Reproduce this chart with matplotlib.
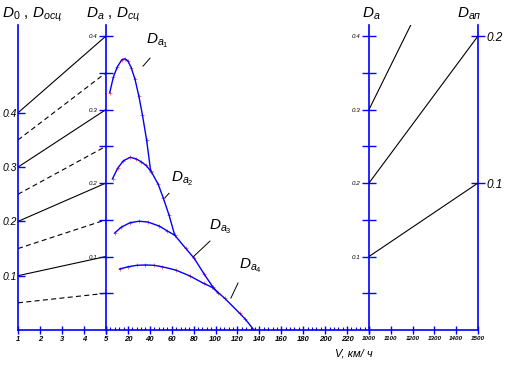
import numpy as np
import matplotlib.pyplot as plt
from matplotlib.ticker import FixedLocator, MultipleLocator

plt.rcParams['font.family'] = ['Liberation Sans', 'DejaVu Sans']
plt.rcParams['mathtext.fontset'] = 'custom'
plt.rcParams['mathtext.it'] = 'Liberation Sans:italic'
plt.rcParams['mathtext.rm'] = 'Liberation Sans'

BLUE = '#0000ff'
RED = '#ff5a5a'

# --- данные ---
# динамический фактор по передачам, V в км/ч
v_a1 = [3.4, 6.7, 10.3, 14.6, 17.3, 20, 23, 26.5, 30, 33.2, 37, 40.7]
d_a1 = [0.323, 0.344, 0.358, 0.368, 0.369, 0.366, 0.357, 0.341, 0.318, 0.293, 0.259, 0.217]
v_a2 = [6, 10.6, 15.7, 22, 27.3, 32, 36.5, 41.5, 47.7, 52.4, 57.6, 62.7]
d_a2 = [0.206, 0.220, 0.230, 0.235, 0.233, 0.229, 0.224, 0.215, 0.198, 0.179, 0.156, 0.129]
v_a3 = [8, 14, 22, 30, 38, 48.5, 56, 62.7, 72.8, 80.5, 89.6, 97.3, 101.8]
d_a3 = [0.132, 0.140, 0.146, 0.148, 0.147, 0.1415, 0.1347, 0.129, 0.111, 0.0975, 0.076, 0.059, 0.051]
v_a4 = [12.5, 20, 28, 36, 44, 51.5, 63.6, 76.6, 89, 97, 108.4, 122, 127, 135]
d_a4 = [0.083, 0.086, 0.088, 0.0885, 0.088, 0.086, 0.0816, 0.0735, 0.0635, 0.058, 0.043, 0.0227, 0.015, 0.0]
curves = [(v_a1, d_a1), (v_a2, d_a2), (v_a3, d_a3), (v_a4, d_a4)]

# номограмма нагрузок (сплошные - целые десятые, штриховые - промежуточные)
d_levels = [0.05, 0.1, 0.15, 0.2, 0.25, 0.3, 0.35, 0.4]
# номограмма автопоезда
dap_levels = [0.1, 0.2, 0.3]

left_xticks = [1, 2, 3, 4, 5]
v_ticks = list(range(0, 241, 20))
v_labels = [''] + [str(v) for v in range(20, 221, 20)] + ['']
right_xticks = [1000, 1100, 1200, 1300, 1400, 1500]

W, H = 508, 366
fig = plt.figure(figsize=(W / 100, H / 100), dpi=100)


def box(x0, x1, y0=25, y1=330):
    return [x0 / W, 1 - y1 / H, (x1 - x0) / W, (y1 - y0) / H]


ax_l = fig.add_axes(box(18, 106))
ax_m = fig.add_axes(box(106, 369))
ax_r = fig.add_axes(box(369, 478))
ax_r2 = ax_r.twinx()

ax_l.set_xlim(1, 5)
ax_l.set_ylim(0, 0.5617)
ax_m.set_xlim(0, 240)
ax_m.set_ylim(0, 0.415)
ax_r.set_xlim(1000, 1500)
ax_r.set_ylim(0, 0.415)
ax_r2.set_ylim(0, 0.2075)

for ax in (ax_l, ax_m, ax_r, ax_r2):
    ax.patch.set_visible(False)
    for s in ax.spines.values():
        s.set_color(BLUE)
        s.set_linewidth(1.2)
    ax.spines['top'].set_visible(False)
for ax in (ax_l, ax_m, ax_r):
    ax.spines['right'].set_visible(False)
for side in ('left', 'bottom'):
    ax_r2.spines[side].set_visible(False)

# левая часть
k_l = ax_l.get_ylim()[1] / ax_m.get_ylim()[1]
for i, d in enumerate(d_levels):
    ls = '-' if i % 2 else (0, (4.5, 3))
    ax_l.plot([1, 5], [d, d * k_l], color='k', lw=0.8, ls=ls)

ax_l.set_yticks([0.1, 0.2, 0.3, 0.4])
ax_l.set_yticklabels(['0.1', '0.2', '0.3', '0.4'])
ax_l.tick_params(axis='y', direction='in', length=5, width=1, color=BLUE,
                 labelsize=7.5, pad=1)
ax_l.set_xticks(left_xticks)
ax_l.tick_params(axis='x', direction='inout', length=6, width=1, color=BLUE,
                 labelsize=5.5, pad=1)

# средняя часть: кривые
for v, d in curves:
    ax_m.plot(v, d, color=BLUE, lw=1.0, zorder=3)
    ax_m.plot(v, d, '+', color=RED, ms=2.2, mew=0.6, zorder=2)

labels = [
    (r'$D_{a_1}$', (36.5, 0.389), (33.8, 0.359), (40.2, 0.370)),
    (r'$D_{a_2}$', (59.3, 0.201), (53.8, 0.180), (57.5, 0.186)),
    (r'$D_{a_3}$', (94.0, 0.136), (79.4, 0.0993), (94.9, 0.121)),
    (r'$D_{a_4}$', (121.4, 0.083), (114.0, 0.0435), (120.5, 0.064)),
]
for txt, pos, p0, p1 in labels:
    ax_m.text(pos[0], pos[1], txt, fontsize=11, ha='left', va='baseline')
    ax_m.plot([p0[0], p1[0]], [p0[1], p1[1]], color='k', lw=0.7)

ax_m.yaxis.set_major_locator(FixedLocator([0.1, 0.2, 0.3, 0.4]))
ax_m.yaxis.set_minor_locator(FixedLocator([0.05, 0.15, 0.25, 0.35]))
ax_m.set_yticklabels(['0.1', '0.2', '0.3', '0.4'])
ax_m.tick_params(axis='y', which='both', direction='inout', length=10, width=1,
                 color=BLUE, labelsize=4.5, pad=1)
ax_m.xaxis.set_major_locator(FixedLocator(v_ticks))
ax_m.xaxis.set_minor_locator(MultipleLocator(4))
ax_m.set_xticklabels(v_labels)
ax_m.tick_params(axis='x', which='major', direction='inout', length=6, width=1,
                 color=BLUE, labelsize=5.5, pad=1)
ax_m.tick_params(axis='x', which='minor', direction='in', length=2.5, width=0.8,
                 color=BLUE)

# правая часть
k_r = ax_r2.get_ylim()[1] / ax_r.get_ylim()[1]
for d in dap_levels:
    ax_r2.plot([1000, 1500], [d * k_r, d], color='k', lw=0.8)

ax_r.yaxis.set_major_locator(FixedLocator([0.1, 0.2, 0.3, 0.4]))
ax_r.yaxis.set_minor_locator(FixedLocator([0.05, 0.15, 0.25, 0.35]))
ax_r.set_yticklabels(['0.1', '0.2', '0.3', '0.4'])
ax_r.tick_params(axis='y', which='both', direction='inout', length=10, width=1,
                 color=BLUE, labelsize=4.5, pad=1)
ax_r.set_xticks(right_xticks)
ax_r.tick_params(axis='x', direction='inout', length=6, width=1, color=BLUE,
                 labelsize=4.5, pad=1)
ax_r2.set_yticks([0.1, 0.2])
ax_r2.set_yticklabels(['0.1', '0.2'])
ax_r2.tick_params(axis='y', direction='inout', length=10, width=1, color=BLUE,
                  labelsize=8.5, pad=1)

for ax in (ax_l, ax_m, ax_r):
    for lbl in ax.get_xticklabels():
        lbl.set_fontweight('bold')
        lbl.set_fontstyle('italic')
for ax in (ax_l, ax_m, ax_r, ax_r2):
    for lbl in ax.get_yticklabels():
        lbl.set_fontstyle('italic')

# подписи осей
fig.text(2 / W, 1 - 18 / H, r'$D_0$ , $D_{осц}$', fontsize=11, ha='left', va='baseline')
fig.text(86 / W, 1 - 18 / H, r'$D_a$ , $D_{сц}$', fontsize=11, ha='left', va='baseline')
fig.text(362 / W, 1 - 18 / H, r'$D_a$', fontsize=11, ha='left', va='baseline')
fig.text(457 / W, 1 - 18 / H, r'$D_{ап}$', fontsize=11, ha='left', va='baseline')
fig.text(335 / W, 1 - 356 / H, 'V, км/ ч', fontsize=8, fontstyle='italic',
         ha='left', va='baseline')

fig.savefig('out.png', dpi=100)
